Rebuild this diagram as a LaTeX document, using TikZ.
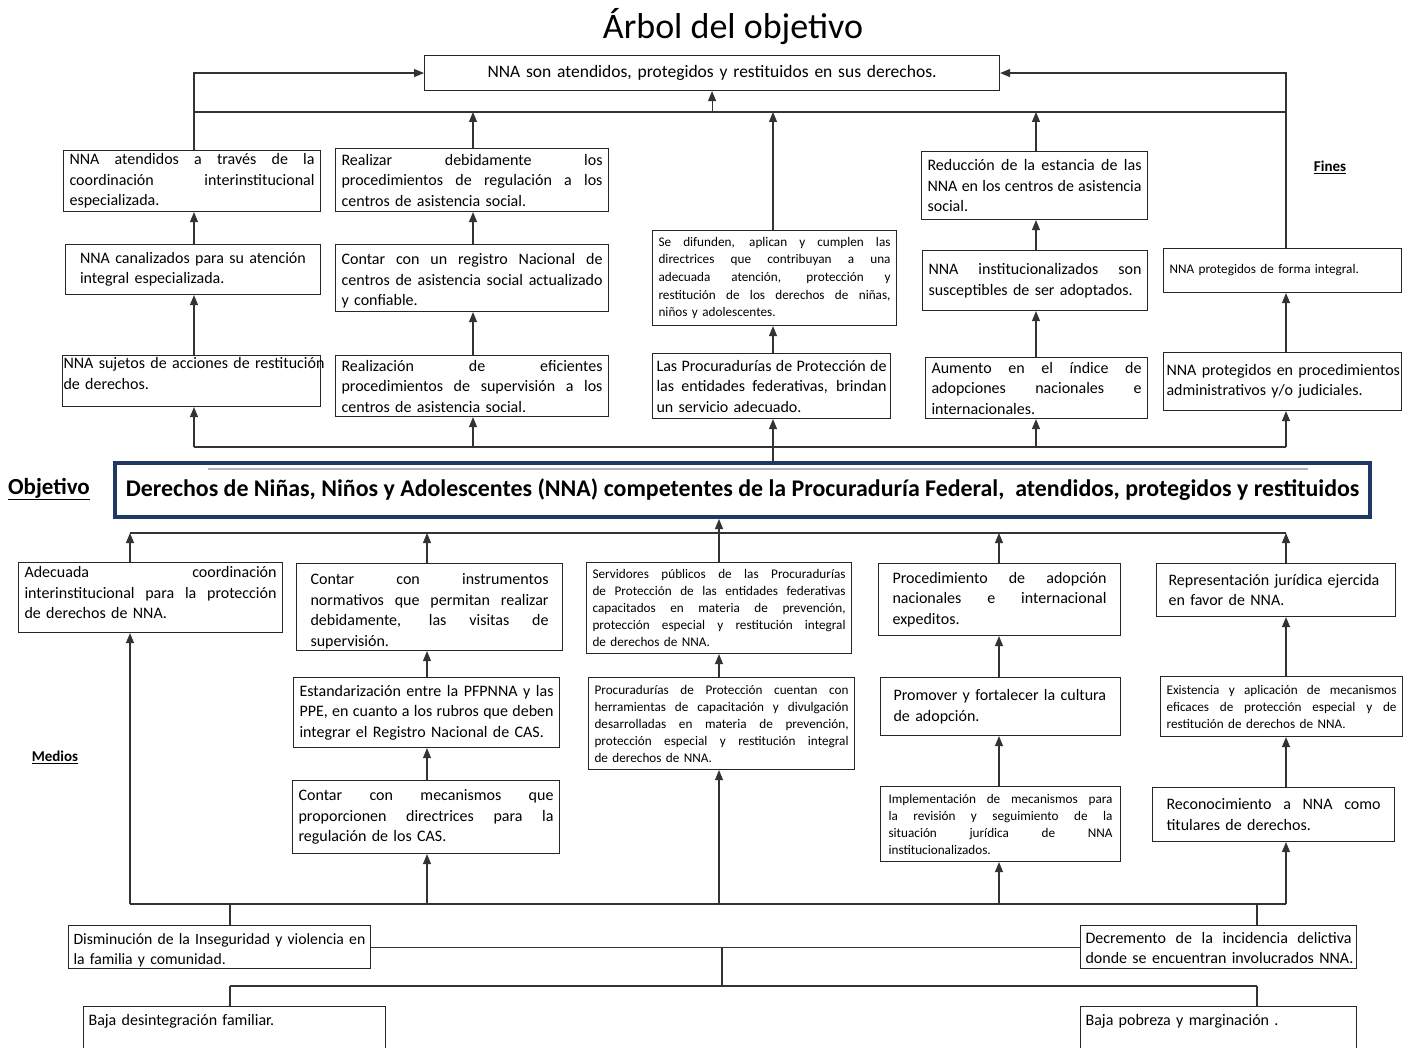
\documentclass[tikz,border=0pt]{standalone}
\usepackage{fontspec}
\setmainfont{Carlito}
\usetikzlibrary{arrows.meta}
\definecolor{objblue}{HTML}{203864}
\newlength\jlw
\newcommand\jl[1]{\begingroup\spaceskip=\fontdimen2\font plus 1fil\relax\xspaceskip=\spaceskip\makebox[\jlw][s]{#1}\endgroup}
\newcommand\ml[1]{\mbox{#1}}
\newcommand\nfont{\fontsize{16}{20.5}\selectfont}
\newcommand\sfontx{\fontsize{13.2}{17}\selectfont}
\newcommand\mybox[7][]{\node[box,anchor=north west,minimum width=#5-#3,minimum height=#6-#4,tw=#5-#3-12,#1] (#2) at (#3,#4) {#7};}
\tikzset{
  tw/.code={\pgfmathsetlength\jlw{#1}\pgfkeysalso{/tikz/text width=\the\jlw}},
  box/.style={draw=black!85, line width=1.1pt, fill=white, inner xsep=6pt, inner ysep=1pt, font=\nfont, align=left},
  ln/.style={draw=black!80, line width=1.1pt},
  arr/.style={draw=black!80, line width=1.1pt, -{Triangle[width=8pt,length=10pt]}},
  lbl/.style={font=\bfseries\fontsize{15}{18}\selectfont}
}
\begin{document}
\begin{tikzpicture}[x=1pt,y=-1pt]
\path[use as bounding box, fill=white] (0,0) rectangle (1413,1048);

% columns and levels
\coordinate (cA) at (194,0); \coordinate (cB) at (473,0); \coordinate (cC) at (773,0);
\coordinate (cD) at (1036,0); \coordinate (cE) at (1286,0);
\coordinate (kA) at (130,0); \coordinate (kB) at (427,0); \coordinate (kC) at (719,0);
\coordinate (kD) at (999,0); \coordinate (kE) at (1286,0);
\coordinate (lA) at (230,0); \coordinate (lB) at (1257,0); \coordinate (lC) at (722,0);
\coordinate (h1) at (0,112); \coordinate (h2) at (0,447); \coordinate (h3) at (0,533);
\coordinate (h4) at (0,904); \coordinate (h6) at (0,986);

\node[font=\fontsize{36}{40}\selectfont] (title) at (733,27) {Árbol del objetivo};
\node[box, anchor=north west, minimum width=575, minimum height=35, text width=560, align=center, font=\fontsize{17.5}{20}\selectfont] (top) at (424,55) {NNA son atendidos, protegidos y restituidos en sus derechos.};

\node[lbl] (fines) at (1330,167) {\underline{Fines}};
\node[font=\bfseries\fontsize{23}{26}\selectfont] (objl) at (49,489) {\underline{Objetivo}};
\node[lbl] (medl) at (55,757) {\underline{Medios}};

% Fines
\mybox{f1a}{63}{150}{320}{211}{\jl{NNA atendidos a través de la}\\ \jl{coordinación interinstitucional}\\ \ml{especializada.}}
\mybox{f2a}{335}{148}{608}{211}{\jl{Realizar debidamente los}\\ \jl{procedimientos de regulación a los}\\ \ml{centros de asistencia social.}}
\mybox{f4a}{921}{151}{1147}{219}{\jl{Reducción de la estancia de las}\\ \jl{NNA en los centros de asistencia}\\ \ml{social.}}
\mybox[tw=226]{f1b}{65}{244}{320}{294}{\ml{NNA canalizados para su atención}\\ \ml{integral especializada.}}
\mybox[text height=12pt, text depth=39pt]{f2b}{335}{244}{608}{311}{\jl{Contar con un registro Nacional de}\\ \jl{centros de asistencia social actualizado}\\ \ml{y confiable.}}
\mybox[font=\fontsize{13.2}{17.7}\selectfont]{f3a}{652}{230}{896}{325}{\jl{Se difunden, aplican y cumplen las}\\ \jl{directrices que contribuyan a una}\\ \jl{adecuada atención, protección y}\\ \jl{restitución de los derechos de niñas,}\\ \ml{niños y adolescentes.}}
\mybox{f4b}{922}{250}{1147}{310}{\jl{NNA institucionalizados son}\\ \ml{susceptibles de ser adoptados.}}
\mybox[font=\sfontx]{f5a}{1163}{248}{1401}{292}{\ml{NNA protegidos de forma integral.}}
\mybox[inner xsep=1pt, tw=256, text height=12pt, text depth=37pt]{f1c}{62}{355}{320}{406}{\ml{NNA sujetos de acciones de restitución}\\ \ml{de derechos.}}
\mybox{f2c}{335}{355}{608}{416}{\jl{Realización de eficientes}\\ \jl{procedimientos de supervisión a los}\\ \ml{centros de asistencia social.}}
\mybox[inner xsep=4pt, tw=230]{f3b}{652}{353}{890}{418}{\jl{Las Procuradurías de Protección de}\\ \jl{las entidades federativas, brindan}\\ \ml{un servicio adecuado.}}
\mybox{f4c}{925}{357}{1147}{418}{\jl{Aumento en el índice de}\\ \jl{adopciones nacionales e}\\ \ml{internacionales.}}
\mybox[inner xsep=3pt, tw=232]{f5b}{1163}{352}{1401}{410}{\ml{NNA protegidos en procedimientos}\\ \ml{administrativos y/o judiciales.}}

% Objective
\node[draw=objblue, line width=4pt, fill=white, anchor=north west, minimum width=1255, minimum height=54, font=\bfseries\fontsize{23.9}{28}\selectfont] (obj) at (113,461) {Derechos de Niñas, Niños y Adolescentes (NNA) competentes de la Procuraduría Federal,\ \ atendidos, protegidos y restituidos};
\draw[gray!60, line width=1.5pt] (208,469) -- (1308,469);

% Medios
\mybox[text height=12pt, text depth=52pt]{m1a}{18}{562}{282}{632}{\jl{Adecuada coordinación}\\ \jl{interinstitucional para la protección}\\ \ml{de derechos de NNA.}}
\mybox[tw=238, text height=12pt, text depth=57pt]{m2a}{296}{563}{562}{650}{\jl{Contar con instrumentos}\\ \jl{normativos que permitan realizar}\\ \jl{debidamente, las visitas de}\\ \ml{supervisión.}}
\mybox[font=\sfontx]{m3a}{586}{562}{851}{653}{\jl{Servidores públicos de las Procuradurías}\\ \jl{de Protección de las entidades federativas}\\ \jl{capacitados en materia de prevención,}\\ \jl{protección especial y restitución integral}\\ \ml{de derechos de NNA.}}
\mybox[tw=214]{m4a}{878}{563}{1120}{635}{\jl{Procedimiento de adopción}\\ \jl{nacionales e internacional}\\ \ml{expeditos.}}
\mybox[tw=215]{m5a}{1156}{563}{1395}{616}{\ml{Representación jurídica ejercida}\\ \ml{en favor de NNA.}}
\mybox{m2b}{293}{677}{559}{747}{\jl{Estandarización entre la PFPNNA y las}\\ \jl{PPE, en cuanto a los rubros que deben}\\ \ml{integrar el Registro Nacional de CAS.}}
\mybox[font=\sfontx]{m3b}{588}{677}{854}{769}{\jl{Procuradurías de Protección cuentan con}\\ \jl{herramientas de capacitación y divulgación}\\ \jl{desarrolladas en materia de prevención,}\\ \jl{protección especial y restitución integral}\\ \ml{de derechos de NNA.}}
\mybox[tw=214]{m4b}{880}{677}{1120}{735}{\ml{Promover y fortalecer la cultura}\\ \ml{de adopción.}}
\mybox[font=\sfontx]{m5b}{1160}{676}{1402}{736}{\jl{Existencia y aplicación de mecanismos}\\ \jl{eficaces de protección especial y de}\\ \ml{restitución de derechos de NNA.}}
\mybox{m2c}{292}{780}{559}{853}{\jl{Contar con mecanismos que}\\ \jl{proporcionen directrices para la}\\ \ml{regulación de los CAS.}}
\mybox[font=\sfontx, tw=224]{m4c}{880}{786}{1120}{861}{\jl{Implementación de mecanismos para}\\ \jl{la revisión y seguimiento de la}\\ \jl{situación jurídica de NNA}\\ \ml{institucionalizados.}}
\mybox[tw=214]{m5c}{1152}{787}{1394}{841}{\jl{Reconocimiento a NNA como}\\ \ml{titulares de derechos.}}

% Bottom
\mybox[inner xsep=5pt, tw=292, font=\fontsize{15.7}{20}\selectfont, text height=12pt, text depth=16.5pt]{d1}{68}{925}{370}{968}{\ml{Disminución de la Inseguridad y violencia en}\\ \ml{la familia y comunidad.}}
\mybox[inner xsep=4pt, tw=266, text height=12pt, text depth=19.5pt]{d2}{1080}{925}{1356}{968}{\jl{Decremento de la incidencia delictiva}\\ \ml{donde se encuentran involucrados NNA.}}
\mybox[minimum height=0, inner ysep=8pt, inner xsep=5pt, tw=292]{b1}{83}{1006}{385}{1070}{\parbox[t][48pt][t]{292pt}{Baja desintegración familiar.}}
\mybox[minimum height=0, inner ysep=8pt, inner xsep=5pt, tw=266]{b2}{1080}{1006}{1356}{1070}{\parbox[t][48pt][t]{266pt}{Baja pobreza y marginación .}}

% Connectors: fines
\draw[arr] (f1a.north -| cA) |- (top.west);
\draw[arr] (f5a.north -| cE) |- (top.east);
\draw[ln] (cA |- h1) -- (cE |- h1);
\draw[arr] (top.south |- h1) -- (top.south);
\draw[arr] (f2a.north -| cB) -- (cB |- h1);
\draw[arr] (f3a.north -| cC) -- (cC |- h1);
\draw[arr] (f4a.north -| cD) -- (cD |- h1);
\draw[arr] (f1b.north -| cA) -- (f1a.south -| cA);
\draw[arr] (f2b.north -| cB) -- (f2a.south -| cB);
\draw[arr] (f4b.north -| cD) -- (f4a.south -| cD);
\draw[arr] (f1c.north -| cA) -- (f1b.south -| cA);
\draw[arr] (f2c.north -| cB) -- (f2b.south -| cB);
\draw[arr] (f3b.north -| cC) -- (f3a.south -| cC);
\draw[arr] (f4c.north -| cD) -- (f4b.south -| cD);
\draw[arr] (f5b.north -| cE) -- (f5a.south -| cE);
\draw[ln] (cA |- h2) -- (cE |- h2);
\draw[arr] (cA |- h2) -- (f1c.south -| cA);
\draw[arr] (cB |- h2) -- (f2c.south -| cB);
\draw[arr] (obj.north -| cC) -- (f3b.south -| cC);
\draw[arr] (cD |- h2) -- (f4c.south -| cD);
\draw[arr] (cE |- h2) -- (f5b.south -| cE);

% Connectors: medios
\draw[ln] (kA |- h3) -- (kE |- h3);
\draw[arr] (m3a.north -| kC) -- (obj.south -| kC);
\draw[arr] (m1a.north -| kA) -- (kA |- h3);
\draw[arr] (m2a.north -| kB) -- (kB |- h3);
\draw[arr] (m4a.north -| kD) -- (kD |- h3);
\draw[arr] (m5a.north -| kE) -- (kE |- h3);
\draw[arr] (kA |- h4) -- (m1a.south -| kA);
\draw[arr] (m2b.north -| kB) -- (m2a.south -| kB);
\draw[arr] (m2c.north -| kB) -- (m2b.south -| kB);
\draw[arr] (kB |- h4) -- (m2c.south -| kB);
\draw[arr] (m3b.north -| kC) -- (m3a.south -| kC);
\draw[arr] (kC |- h4) -- (m3b.south -| kC);
\draw[arr] (m4b.north -| kD) -- (m4a.south -| kD);
\draw[arr] (m4c.north -| kD) -- (m4b.south -| kD);
\draw[arr] (kD |- h4) -- (m4c.south -| kD);
\draw[arr] (m5b.north -| kE) -- (m5a.south -| kE);
\draw[arr] (m5c.north -| kE) -- (m5b.south -| kE);
\draw[arr] (kE |- h4) -- (m5c.south -| kE);
\draw[ln] (kA |- h4) -- (kE |- h4);

% Connectors: bottom
\draw[ln] (lA |- h4) -- (d1.north -| lA);
\draw[ln] (lB |- h4) -- (d2.north -| lB);
\draw[ln] (d1.east) -- (d2.west);
\draw[ln] (d1.east -| lC) -- (lC |- h6);
\draw[ln] (lA |- h6) -- (lB |- h6);
\draw[ln] (lA |- h6) -- (b1.north -| lA);
\draw[ln] (lB |- h6) -- (b2.north -| lB);
\end{tikzpicture}
\end{document}
